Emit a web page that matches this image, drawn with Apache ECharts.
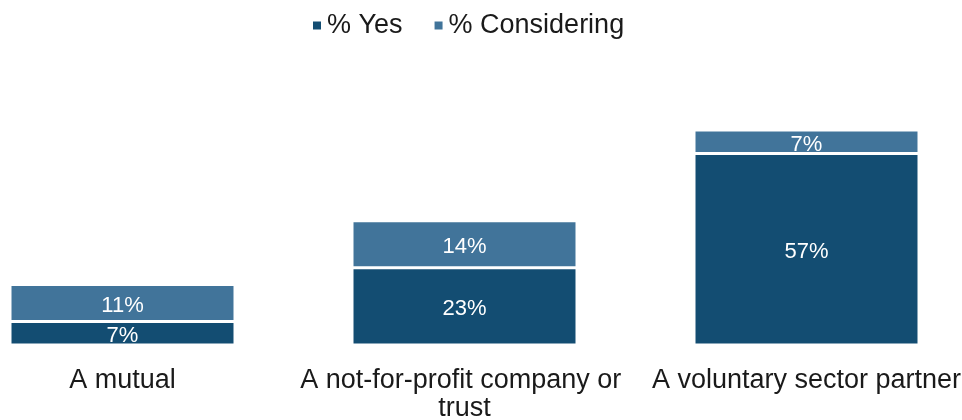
<!DOCTYPE html>
<html><head><meta charset="utf-8">
<script src="https://cdn.jsdelivr.net/npm/echarts@6/dist/echarts.min.js"></script>
<style>html,body{margin:0;padding:0;background:#fff}#c{width:962px;height:420px}</style>
</head><body><div id="c"></div>
<script>
const categories = ["A mutual", "A not-for-profit company or trust", "A voluntary sector partner"];
const yesValues = [7, 23, 57];
const consideringValues = [11, 14, 7];
const seriesNames = ["% Yes", "% Considering"];

const chart = echarts.init(document.getElementById('c'));
const font = "'Liberation Sans', Arial, sans-serif";
const lbl = {show: true, position: 'inside', offset: [0, 3], color: '#fff', fontSize: 22, fontFamily: font, formatter: p => p.value + '%'};
chart.setOption({
  animation: false,
  legend: {top: 7, left: 306, itemWidth: 10, itemHeight: 10, itemGap: 30, icon: 'rect',
    textStyle: {fontSize: 27, fontFamily: font, color: '#1a1a1a'}, data: seriesNames},
  grid: {left: -48.5, right: -15.5, top: 9, bottom: 75, outerBoundsMode: 'none', containLabel: false},
  xAxis: {type: 'category', data: categories, axisLine: {show: false}, axisTick: {show: false},
    axisLabel: {fontSize: 27, fontFamily: font, color: '#1a1a1a', margin: 22, lineHeight: 28, width: 345, overflow: 'break', interval: 0}},
  yAxis: {type: 'value', min: 0, max: 100, show: false, splitLine: {show: false}},
  series: [
    {name: seriesNames[0], type: 'bar', stack: 's', data: yesValues, barWidth: 225,
      itemStyle: {color: '#134D72', borderColor: '#fff', borderWidth: 1.5}, label: lbl},
    {name: seriesNames[1], type: 'bar', stack: 's', data: consideringValues, barWidth: 225,
      itemStyle: {color: '#41749A', borderColor: '#fff', borderWidth: 1.5}, label: lbl}
  ]
});
</script></body></html>
